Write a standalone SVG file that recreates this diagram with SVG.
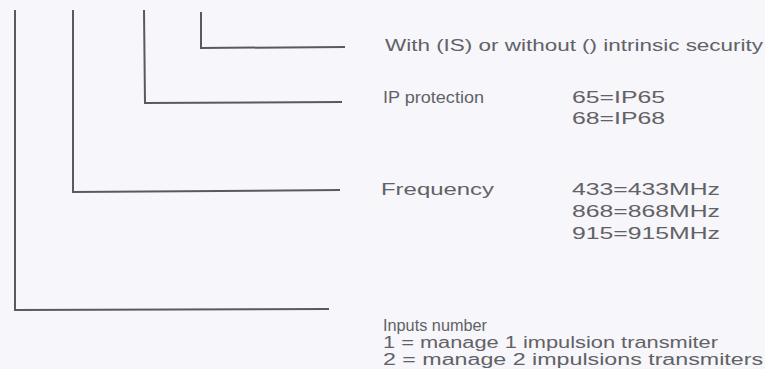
<svg xmlns="http://www.w3.org/2000/svg" width="765" height="369" viewBox="0 0 765 369">
<style>
.ln{fill:none;stroke:#5a5a5e;stroke-width:2}
.t{font-family:"Liberation Sans",Arial,sans-serif;font-size:16px;fill:#626266}
</style>
<rect width="765" height="369" fill="#f6f6fb"/>
<g id="connectors">
<polyline class="ln" points="15,10 15,310 329,309"/>
<polyline class="ln" points="73,10 73,192 340,190"/>
<polyline class="ln" points="144,10 145,103 342,102"/>
<polyline class="ln" points="201,12 201,48 345,47"/>
</g>
<g id="security">
<text class="t" x="385" y="51" textLength="378" lengthAdjust="spacingAndGlyphs">With (IS) or without () intrinsic security</text>
</g>
<g id="ip">
<text class="t" x="383" y="103" textLength="101" lengthAdjust="spacingAndGlyphs">IP protection</text>
<text class="t" x="572" y="103" textLength="93" lengthAdjust="spacingAndGlyphs">65=IP65</text>
<text class="t" x="572" y="124" textLength="93" lengthAdjust="spacingAndGlyphs">68=IP68</text>
</g>
<g id="frequency">
<text class="t" x="381" y="195" textLength="113" lengthAdjust="spacingAndGlyphs">Frequency</text>
<text class="t" x="572" y="195" textLength="148" lengthAdjust="spacingAndGlyphs">433=433MHz</text>
<text class="t" x="572" y="217" textLength="148" lengthAdjust="spacingAndGlyphs">868=868MHz</text>
<text class="t" x="572" y="239" textLength="148" lengthAdjust="spacingAndGlyphs">915=915MHz</text>
</g>
<g id="inputs">
<text class="t" x="383" y="331" textLength="104" lengthAdjust="spacingAndGlyphs">Inputs number</text>
<text class="t" x="383" y="348" textLength="335" lengthAdjust="spacingAndGlyphs">1 = manage 1 impulsion transmiter</text>
<text class="t" x="383" y="365" textLength="380" lengthAdjust="spacingAndGlyphs">2 = manage 2 impulsions transmiters</text>
</g>
</svg>
